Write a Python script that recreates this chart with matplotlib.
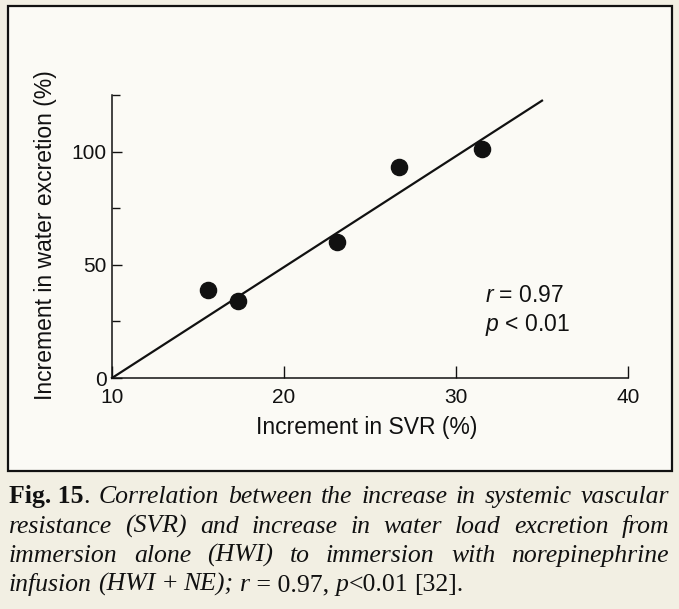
import matplotlib
matplotlib.use("Agg")
import matplotlib.pyplot as plt
from matplotlib.patches import Rectangle

# data
svr = [15.6, 17.3, 23.1, 26.7, 31.5]
water = [39, 34, 60, 93, 101]
fit_x = [10, 35]
fit_y = [0, 122.5]
x_ticks = [10, 20, 30, 40]
y_major = [0, 50, 100]
y_minor = [25, 75, 125]

caption_lines = [
    [[("Fig. 15", "bold"), (".", "normal")], [("Correlation", "italic")], [("between", "italic")],
     [("the", "italic")], [("increase", "italic")], [("in", "italic")], [("systemic", "italic")],
     [("vascular", "italic")]],
    [[(w, "italic")] for w in "resistance (SVR) and increase in water load excretion from".split()],
    [[(w, "italic")] for w in "immersion alone (HWI) to immersion with norepinephrine".split()],
    [[("infusion", "italic")], [("(HWI", "italic")], [("+", "normal")], [("NE);", "italic")],
     [("r", "italic"), (" = 0.97,", "normal")], [("p", "italic"), ("<0.01", "normal")], [("[32].", "normal")]],
]

W, H = 679, 609
ink = "#111111"
sans = ["Liberation Sans", "DejaVu Sans"]
serif = ["Liberation Serif", "DejaVu Serif"]
plt.rcParams["mathtext.fontset"] = "custom"
plt.rcParams["mathtext.it"] = "Liberation Sans:italic"

fig = plt.figure(figsize=(W / 100, H / 100), dpi=100, facecolor="#f2efe3")
fig.patches.append(Rectangle((8 / W, 1 - 471 / H), 664 / W, 465 / H, transform=fig.transFigure,
                             facecolor="#fbfaf5", edgecolor=ink, lw=1.6, zorder=-5))

ax = fig.add_axes([112 / W, 1 - 378 / H, 516 / W, 283 / H])
ax.set_zorder(2)
ax.set_facecolor("none")
ax.plot(fit_x, fit_y, color=ink, lw=1.6, clip_on=False)
ax.scatter(svr, water, s=135, color=ink, zorder=3, clip_on=False)

ax.set_xlim(10, 40)
ax.set_ylim(0, 125)
for s in ["top", "right"]:
    ax.spines[s].set_visible(False)
for s in ["left", "bottom"]:
    ax.spines[s].set_linewidth(1.1)
    ax.spines[s].set_color(ink)

ax.set_xticks(x_ticks)
ax.set_yticks(y_major)
ax.set_yticks(y_minor, minor=True)
ax.tick_params(axis="x", direction="in", length=9, width=1.0, pad=7, labelsize=15, colors=ink)
ax.tick_params(axis="y", which="major", direction="in", length=7, width=1.0, pad=4, labelsize=15, colors=ink)
ax.tick_params(axis="y", which="minor", direction="in", length=5.5, width=1.0, colors=ink)
for lab in ax.get_xticklabels() + ax.get_yticklabels():
    lab.set_family(sans)

ax.set_xlabel("Increment in SVR (%)", fontsize=16.5, family=sans, color=ink)
ax.set_ylabel("Increment in water excretion (%)", fontsize=16.5, family=sans, color=ink)
ax.xaxis.set_label_coords(0.494, -0.134)
ax.yaxis.set_label_coords(-0.107, 0.505)

ax.text(31.7, 36.5, "$r$ = 0.97", fontsize=16.5, family=sans, color=ink, va="center")
ax.text(31.7, 23.2, "$p$ < 0.01", fontsize=16.5, family=sans, color=ink, va="center")

# justified caption, word by word
renderer = fig.canvas.get_renderer()
left, right = 9, 669
baselines = [503, 533, 562, 591]
cap_size = 18.5


def seg_props(style):
    if style == "bold":
        return dict(fontweight="bold", fontstyle="normal")
    if style == "italic":
        return dict(fontweight="normal", fontstyle="italic")
    return dict(fontweight="normal", fontstyle="normal")


def word_width(word):
    total = 0
    for txt, style in word:
        t = fig.text(0, 0, txt, fontsize=cap_size, family=serif, **seg_props(style))
        total += t.get_window_extent(renderer).width
        t.remove()
    return total


space = word_width([("a a", "normal")]) - 2 * word_width([("a", "normal")])
for i, line in enumerate(caption_lines):
    widths = [word_width(w) for w in line]
    if i < len(caption_lines) - 1:
        gap = (right - left - sum(widths)) / (len(line) - 1)
    else:
        gap = space
    x = left
    for w, wd in zip(line, widths):
        xx = x
        for txt, style in w:
            t = fig.text(xx / W, 1 - baselines[i] / H, txt, fontsize=cap_size, family=serif,
                         color=ink, va="baseline", **seg_props(style))
            xx += t.get_window_extent(renderer).width
        x += wd + gap

fig.savefig("out.png", dpi=100, facecolor=fig.get_facecolor())
